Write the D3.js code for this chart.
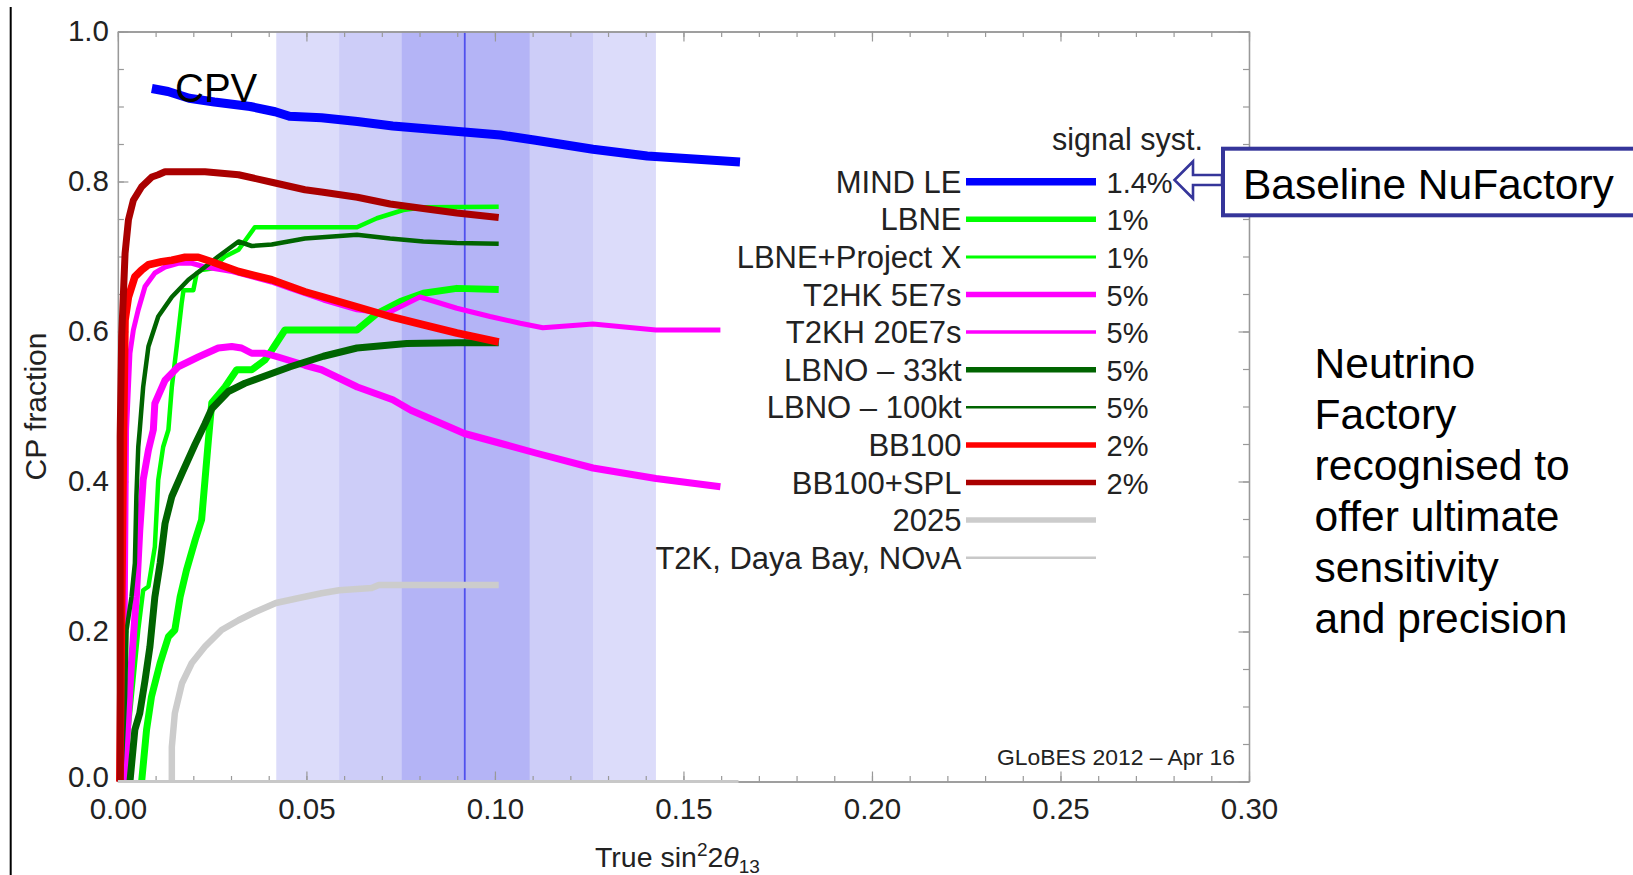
<!DOCTYPE html>
<html>
<head>
<meta charset="utf-8">
<script src="https://cdn.jsdelivr.net/npm/d3@7"></script>
<style>
  html, body { margin: 0; padding: 0; background: #fff; }
  svg { display: block; }
  text { font-family: "Liberation Sans", Arial, Helvetica, sans-serif; }
</style>
</head>
<body>
<svg id="chart" width="1633" height="875"></svg>
<script>
// ---- data -------------------------------------------------------------
// x: true sin^2(2 theta13), y: CP fraction
const mindLE = [[0.009,0.924],[0.0133,0.920],[0.0189,0.911],[0.0256,0.906],[0.0351,0.900],[0.0417,0.893],[0.0455,0.887],[0.054,0.885],[0.0635,0.880],[0.0729,0.874],[0.0824,0.870],[0.0919,0.866],[0.1014,0.862],[0.1108,0.855],[0.126,0.843],[0.1404,0.834],[0.165,0.826]];
const lbne = [[0.0063,0],[0.0076,0.069],[0.0089,0.113],[0.0112,0.158],[0.0134,0.193],[0.0151,0.202],[0.0165,0.246],[0.0182,0.282],[0.0205,0.322],[0.0222,0.349],[0.0231,0.402],[0.024,0.455],[0.0249,0.505],[0.0284,0.526],[0.0315,0.549],[0.0355,0.549],[0.039,0.562],[0.0408,0.575],[0.0443,0.602],[0.0634,0.602],[0.0687,0.624],[0.0749,0.640],[0.081,0.651],[0.0899,0.6575],[0.101,0.656]];
const lbnePX = [[0.0016,0],[0.0028,0.069],[0.0041,0.135],[0.0054,0.202],[0.0067,0.255],[0.0081,0.26],[0.0098,0.313],[0.0107,0.402],[0.012,0.446],[0.0134,0.469],[0.0143,0.526],[0.0156,0.58],[0.0169,0.6375],[0.0174,0.655],[0.02,0.655],[0.0209,0.6775],[0.0222,0.682],[0.0249,0.684],[0.0284,0.700],[0.032,0.709],[0.0363,0.739],[0.0634,0.739],[0.0687,0.751],[0.0757,0.762],[0.081,0.7656],[0.101,0.7664]];
const t2hk5 = [[0.0017,0],[0.0028,0.091],[0.0036,0.158],[0.0045,0.22],[0.0049,0.246],[0.0058,0.335],[0.0067,0.402],[0.0081,0.442],[0.0094,0.469],[0.0098,0.504],[0.0125,0.535],[0.016,0.553],[0.0213,0.566],[0.0266,0.578],[0.0302,0.580],[0.0328,0.578],[0.0355,0.571],[0.039,0.571],[0.0425,0.566],[0.0496,0.555],[0.054,0.549],[0.0635,0.526],[0.0729,0.509],[0.0777,0.495],[0.0919,0.464],[0.1014,0.451],[0.1108,0.438],[0.126,0.418],[0.1427,0.404],[0.1598,0.393]];
const t2kh20 = [[0.0006,0],[0.0019,0.2],[0.0023,0.469],[0.0032,0.571],[0.0041,0.602],[0.0054,0.629],[0.0072,0.660],[0.0098,0.678],[0.0125,0.686],[0.016,0.691],[0.0196,0.691],[0.0231,0.686],[0.0303,0.680],[0.0407,0.666],[0.0457,0.657],[0.0545,0.642],[0.0634,0.629],[0.0713,0.624],[0.0801,0.646],[0.0899,0.631],[0.0987,0.620],[0.1067,0.611],[0.1127,0.605],[0.126,0.610],[0.1427,0.602],[0.1598,0.602]];
const lbno33 = [[0.0032,0],[0.0045,0.069],[0.0058,0.091],[0.0072,0.135],[0.0085,0.18],[0.0098,0.246],[0.0112,0.291],[0.0125,0.344],[0.0143,0.38],[0.017,0.411],[0.0205,0.45],[0.0231,0.477],[0.0249,0.497],[0.0293,0.52],[0.0337,0.531],[0.0408,0.544],[0.0457,0.553],[0.0545,0.567],[0.0634,0.578],[0.0766,0.584],[0.0899,0.585],[0.101,0.585]];
const lbno100 = [[0.0008,0],[0.0015,0.07],[0.0019,0.113],[0.0023,0.202],[0.0036,0.246],[0.0045,0.291],[0.0049,0.38],[0.0054,0.446],[0.0058,0.469],[0.0067,0.526],[0.0081,0.58],[0.0107,0.62],[0.0143,0.646],[0.0187,0.669],[0.0231,0.686],[0.0266,0.70],[0.032,0.72],[0.0355,0.714],[0.0408,0.716],[0.0496,0.724],[0.0634,0.729],[0.0722,0.724],[0.081,0.72],[0.0899,0.718],[0.101,0.717]];
const bb100 = [[0.0005,0],[0.0015,0.46],[0.0019,0.615],[0.0028,0.646],[0.0045,0.673],[0.0063,0.682],[0.0081,0.689],[0.0116,0.693],[0.0143,0.695],[0.0178,0.699],[0.0213,0.699],[0.0249,0.693],[0.032,0.680],[0.0408,0.669],[0.0496,0.653],[0.0545,0.646],[0.0634,0.633],[0.0722,0.620],[0.081,0.609],[0.0899,0.598],[0.101,0.586]];
const bb100spl = [[0.0006,0],[0.0006,0.46],[0.0010,0.593],[0.0019,0.704],[0.0028,0.749],[0.0041,0.775],[0.0063,0.793],[0.009,0.806],[0.0107,0.809],[0.0125,0.813],[0.0231,0.813],[0.032,0.809],[0.0417,0.798],[0.0496,0.789],[0.054,0.786],[0.0635,0.779],[0.0722,0.770],[0.081,0.764],[0.0899,0.758],[0.101,0.752]];
const y2025 = [[0.0143,0],[0.0143,0.046],[0.0151,0.091],[0.017,0.131],[0.0196,0.158],[0.0231,0.18],[0.0275,0.202],[0.032,0.215],[0.0364,0.226],[0.0419,0.238],[0.0474,0.244],[0.054,0.251],[0.0587,0.255],[0.0673,0.258],[0.0692,0.262],[0.101,0.262]];
const current = [[0,0],[0.1646,0]];

const seriesNames = ["MIND LE","LBNE","LBNE+Project X","T2HK 5E7s","T2KH 20E7s","LBNO \u2013 33kt","LBNO \u2013 100kt","BB100","BB100+SPL","2025","T2K, Daya Bay, NO\u03BDA"];
const signalSyst = ["1.4%","1%","1%","5%","5%","5%","5%","2%","2%","",""];
const seriesData = [mindLE,lbne,lbnePX,t2hk5,t2kh20,lbno33,lbno100,bb100,bb100spl,y2025,current];

// measured theta13: best fit and 1/2/3 sigma ranges
const theta13Best = 0.092;
const theta13Bands = [[0.042,0.1427],[0.0587,0.126],[0.0753,0.1092]];

const xMajor = [0.00,0.05,0.10,0.15,0.20,0.25,0.30];
const yMajor = [0.0,0.2,0.4,0.6,0.8,1.0];
const xMinor = d3.range(0,31).map(i => i/100);
const yMinor = d3.range(0,21).map(i => i/20);

const sideNote = ["Neutrino","Factory","recognised to","offer ultimate","sensitivity","and precision"];

// ---- styles -----------------------------------------------------------
const lineStyle = [
  {c:"#0000ff", w:9,   lw:7.5},
  {c:"#00ff00", w:7,   lw:5.5},
  {c:"#00ff00", w:4.5, lw:3},
  {c:"#ff00ff", w:7,   lw:5.5},
  {c:"#ff00ff", w:5,   lw:3.5},
  {c:"#006400", w:7,   lw:5.5},
  {c:"#006400", w:4.5, lw:2.5},
  {c:"#ff0000", w:7.5, lw:5.5},
  {c:"#aa0000", w:7,   lw:5.5},
  {c:"#cccccc", w:6.5, lw:5.5},
  {c:"#c8c8c8", w:3,   lw:2.5}
];
const bandColors = ["#dcdcfa","#cdcdf8","#b4b4f6"];

// ---- layout -----------------------------------------------------------
const svg = d3.select("#chart");
const x = d3.scaleLinear().domain([0,0.30]).range([117.9,1249]);
const y = d3.scaleLinear().domain([0,1]).range([781.5,31.5]);
const [x0,x1] = x.range(), [y0,y1] = y.range();

// left margin rule
svg.append("line").attr("x1",10.7).attr("x2",10.7).attr("y1",7).attr("y2",875)
  .attr("stroke","#000").attr("stroke-width",2);

// theta13 bands and best-fit line
svg.append("g").selectAll("rect").data(theta13Bands).join("rect")
  .attr("x", d => x(d[0])).attr("width", d => x(d[1]) - x(d[0]))
  .attr("y", y1).attr("height", y0 - y1)
  .attr("fill", (d,i) => bandColors[i]);
svg.append("line").attr("x1", x(theta13Best)).attr("x2", x(theta13Best))
  .attr("y1", y1).attr("y2", y0).attr("stroke","#5050ee").attr("stroke-width",1.8);

// frame with inward ticks
const frameColor = "#999";
function styleAxis(g){
  g.select(".domain").attr("stroke", frameColor).attr("stroke-width",1.3);
  g.selectAll(".tick line").attr("stroke", frameColor).attr("stroke-width",1.2);
  g.selectAll("text").attr("fill","#222").attr("font-size",29.5)
    .attr("font-family",'"Liberation Sans", Arial, sans-serif');
}
const noLabel = () => "";
svg.append("g").attr("transform",`translate(0,${y0})`)
  .call(d3.axisBottom(x).tickValues(xMinor).tickSize(-5.5).tickFormat(noLabel).tickSizeOuter(0)).call(styleAxis);
svg.append("g").attr("transform",`translate(0,${y0})`)
  .call(d3.axisBottom(x).tickValues(xMajor).tickSize(-10).tickPadding(17).tickFormat(d3.format(".2f")).tickSizeOuter(0)).call(styleAxis);
svg.append("g").attr("transform",`translate(0,${y1})`)
  .call(d3.axisTop(x).tickValues(xMinor).tickSize(-5.5).tickFormat(noLabel).tickSizeOuter(0)).call(styleAxis);
svg.append("g").attr("transform",`translate(0,${y1})`)
  .call(d3.axisTop(x).tickValues(xMajor).tickSize(-10).tickFormat(noLabel).tickSizeOuter(0)).call(styleAxis);
svg.append("g").attr("transform",`translate(${x0},0)`)
  .call(d3.axisLeft(y).tickValues(yMinor).tickSize(-6).tickFormat(noLabel).tickSizeOuter(0)).call(styleAxis);
const yLabels = svg.append("g").attr("transform",`translate(${x0},0)`)
  .call(d3.axisLeft(y).tickValues(yMajor).tickSize(-10.5).tickPadding(9).tickFormat(d3.format(".1f")).tickSizeOuter(0)).call(styleAxis);
// lift the origin label a little so it clears the x-axis "0.00"
yLabels.selectAll(".tick").filter(d => d === 0).select("text").attr("y",-4.5);
svg.append("g").attr("transform",`translate(${x1},0)`)
  .call(d3.axisRight(y).tickValues(yMinor).tickSize(-6).tickFormat(noLabel).tickSizeOuter(0)).call(styleAxis);
svg.append("g").attr("transform",`translate(${x1},0)`)
  .call(d3.axisRight(y).tickValues(yMajor).tickSize(-10.5).tickFormat(noLabel).tickSizeOuter(0)).call(styleAxis);

// curves
const line = d3.line().x(d => x(d[0])).y(d => y(d[1]));
svg.append("g").selectAll("path").data(seriesData).join("path")
  .attr("d", line).attr("fill","none")
  .attr("stroke", (d,i) => lineStyle[i].c)
  .attr("stroke-width", (d,i) => lineStyle[i].w)
  .attr("stroke-linejoin","round");

// CPV label
svg.append("text").attr("x",175).attr("y",101.5).attr("font-size",40).attr("fill","#000").text("CPV");

// legend
const legend = svg.append("g");
const rowY = i => 181.7 + i*37.6;
legend.append("text").attr("x",1052).attr("y",150).attr("font-size",30.5).attr("fill","#222").text("signal syst.");
const rows = legend.selectAll("g.row").data(seriesNames).join("g").attr("class","row");
rows.append("text").attr("x",961.5).attr("y",(d,i) => rowY(i)+11)
  .attr("text-anchor","end").attr("font-size",31).attr("fill","#222").text(d => d);
rows.append("line").attr("x1",966).attr("x2",1096)
  .attr("y1",(d,i) => rowY(i)).attr("y2",(d,i) => rowY(i))
  .attr("stroke",(d,i) => lineStyle[i].c).attr("stroke-width",(d,i) => lineStyle[i].lw);
rows.append("text").attr("x",1106.5).attr("y",(d,i) => rowY(i)+11)
  .attr("font-size",29).attr("fill","#222").text((d,i) => signalSyst[i]);

// GLoBES stamp
svg.append("text").attr("x",1235).attr("y",765).attr("text-anchor","end")
  .attr("font-size",22).attr("fill","#222")
  .attr("textLength",238).attr("lengthAdjust","spacingAndGlyphs")
  .text("GLoBES 2012 \u2013 Apr 16");

// axis titles
const xt = svg.append("text").attr("x",(x0+x1)/2 - 6).attr("y",866.5).attr("text-anchor","middle")
  .attr("font-size",28.5).attr("fill","#222");
xt.append("tspan").text("True sin");
xt.append("tspan").attr("dy",-11).attr("font-size",19).text("2");
xt.append("tspan").attr("dy",11).text("2");
xt.append("tspan").attr("font-style","italic").text("\u03B8");
xt.append("tspan").attr("dy",6).attr("font-size",19).text("13");

svg.append("text").attr("transform",`translate(45.5,${(y0+y1)/2}) rotate(-90)`)
  .attr("text-anchor","middle").attr("font-size",30).attr("fill","#222").text("CP fraction");

// Baseline NuFactory callout
const navy = "#35359a";
svg.append("rect").attr("x",1223).attr("y",148.7).attr("width",420).attr("height",66.6)
  .attr("fill","#fff").attr("stroke",navy).attr("stroke-width",4);
svg.append("path")
  .attr("d","M1174.5,180 L1193,161.5 L1193,175 L1222,175 L1222,185 L1193,185 L1193,198.5 Z")
  .attr("fill","#fff").attr("stroke",navy).attr("stroke-width",2.6).attr("stroke-linejoin","miter");
svg.append("text").attr("x",1243).attr("y",198.5).attr("font-size",42.5).attr("fill","#000").text("Baseline NuFactory");

// side note
svg.append("g").selectAll("text").data(sideNote).join("text")
  .attr("x",1314.6).attr("y",(d,i) => 378.3 + i*51)
  .attr("font-size",42.5).attr("fill","#000").text(d => d);
</script>
</body>
</html>
